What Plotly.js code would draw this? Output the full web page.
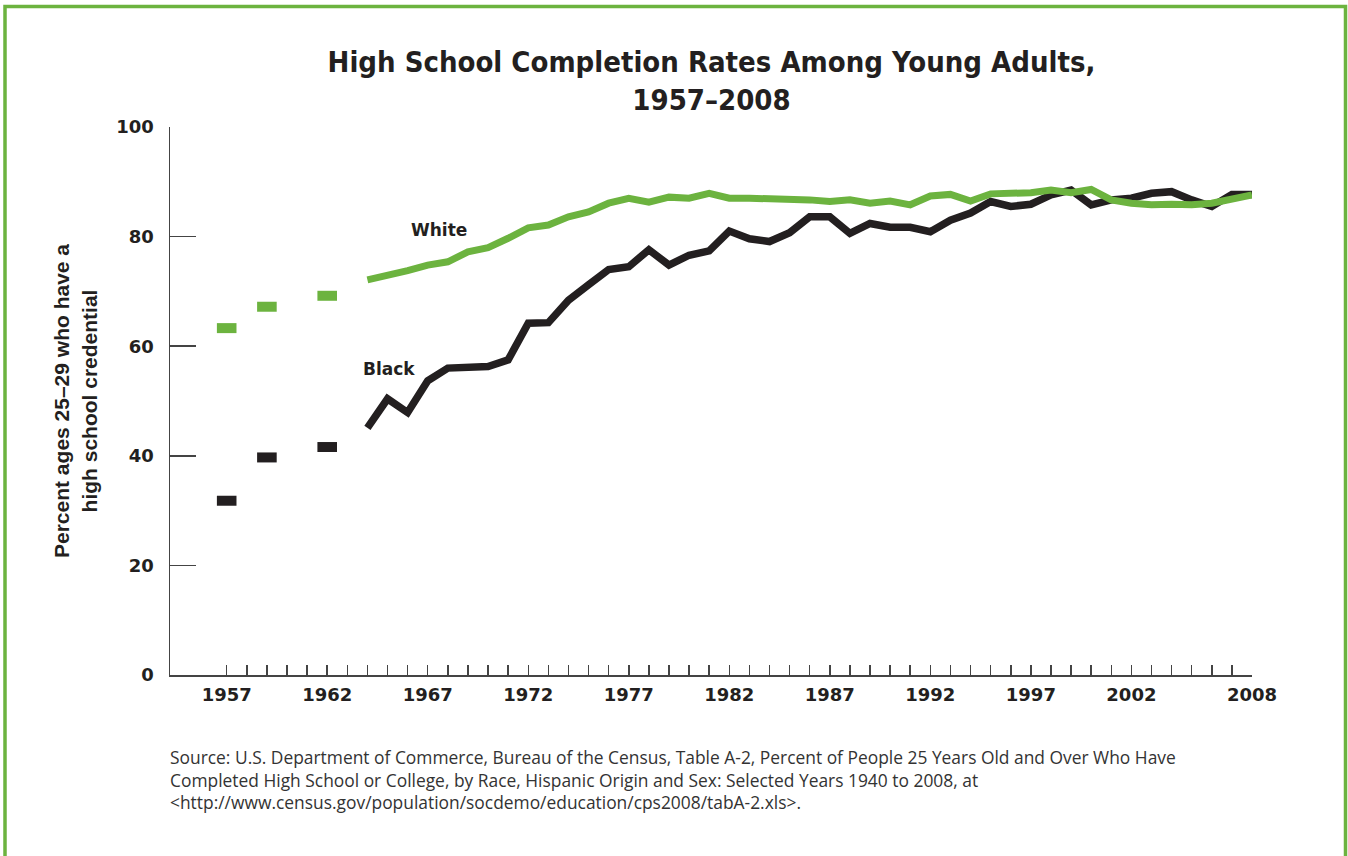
<!DOCTYPE html>
<html>
<head>
<meta charset="utf-8">
<script src="https://cdn.plot.ly/plotly-3.0.1.min.js"></script>
<style>
  html, body { margin: 0; padding: 0; background: #ffffff; }
  #chart { width: 1348px; height: 856px; }
</style>
</head>
<body>
<div id="chart"></div>
<script>
// ---- Data ----
const earlyYears = [1957, 1959, 1962];
const whiteEarly = [63.3, 67.2, 69.2];
const blackEarly = [31.8, 39.7, 41.6];

const lineYears = [1964, 1965, 1966, 1967, 1968, 1969, 1970, 1971, 1972, 1973,
  1974, 1975, 1976, 1977, 1978, 1979, 1980, 1981, 1982, 1983,
  1984, 1985, 1986, 1987, 1988, 1989, 1990, 1991, 1992, 1993,
  1994, 1995, 1996, 1997, 1998, 1999, 2000, 2001, 2002, 2003,
  2004, 2005, 2006, 2007, 2008];

const whiteLine = [72.1, 72.8, 73.8, 74.8, 75.4, 77.2, 78.0, 79.7, 81.6, 82.1,
  83.6, 84.5, 86.1, 87.0, 86.3, 87.2, 87.0, 87.9, 87.0, 87.0,
  87.0, 87.0, 86.7, 86.4, 86.7, 86.1, 86.5, 85.8, 87.4, 87.7,
  86.5, 87.8, 87.9, 88.0, 88.5, 88.0, 88.6, 86.7, 86.1, 85.8,
  85.9, 85.8, 86.1, 86.8, 87.6];

const blackLine = [45.1, 50.4, 47.9, 53.7, 56.0, 56.0, 56.3, 57.5, 64.2, 64.3,
  68.4, 71.2, 74.0, 74.5, 77.6, 74.8, 76.6, 77.4, 81.0, 79.6,
  79.1, 80.7, 83.6, 83.6, 80.6, 82.4, 81.7, 81.7, 80.9, 83.0,
  84.3, 86.4, 85.5, 85.9, 87.6, 88.5, 85.8, 86.7, 87.0, 87.9,
  88.2, 86.7, 85.5, 87.7, 87.7];

const tickYears = [];
for (let y = 1957; y <= 2008; y++) tickYears.push(y);
const labeledYears = [1957, 1962, 1967, 1972, 1977, 1982, 1987, 1992, 1997, 2002, 2008];
const tickText = tickYears.map(y => labeledYears.includes(y) ? String(y) : '');

const yTicks = [0, 20, 40, 60, 80, 100];

const titleText = 'High School Completion Rates Among Young Adults,<br>1957–2008';
const yTitleText = 'Percent ages 25–29 who have a<br>high school credential';
const sourceLines = [
  'Source: U.S. Department of Commerce, Bureau of the Census, Table A-2, Percent of People 25 Years Old and Over Who Have',
  'Completed High School or College, by Race, Hispanic Origin and Sex: Selected Years 1940 to 2008, at',
  '&lt;http://www.census.gov/population/socdemo/education/cps2008/tabA-2.xls&gt;.'
];

const GREEN = '#6cb33f';
const BLACK = '#231f20';

const traces = [
  {
    x: lineYears, y: blackLine, type: 'scatter', mode: 'lines',
    line: { color: BLACK, width: 7.5 }, cliponaxis: false, name: 'Black', hoverinfo: 'x+y'
  },
  {
    x: lineYears, y: whiteLine, type: 'scatter', mode: 'lines',
    line: { color: GREEN, width: 7 }, cliponaxis: false, name: 'White', hoverinfo: 'x+y'
  },
  {
    x: earlyYears, y: whiteEarly, type: 'scatter', mode: 'markers',
    marker: { symbol: 'line-ew', size: 14, line: { color: GREEN, width: 10 } },
    cliponaxis: false, name: 'White', hoverinfo: 'x+y'
  },
  {
    x: earlyYears, y: blackEarly, type: 'scatter', mode: 'markers',
    marker: { symbol: 'line-ew', size: 14, line: { color: BLACK, width: 10 } },
    cliponaxis: false, name: 'Black', hoverinfo: 'x+y'
  }
];

const layout = {
  width: 1348, height: 856,
  margin: { l: 170, r: 96, t: 127, b: 181, pad: 0 },
  paper_bgcolor: '#ffffff', plot_bgcolor: '#ffffff',
  showlegend: false,
  title: {
    text: titleText,
    font: { family: 'Liberation Sans Narrow, DejaVu Sans Condensed, sans-serif', size: 29, color: BLACK, weight: 'bold' },
    x: 711.5 / 1348, xref: 'container', xanchor: 'center',
    y: 1 - 72 / 856, yref: 'container', yanchor: 'top'
  },
  xaxis: {
    range: [1954.18, 2008.0],
    tickmode: 'array', tickvals: tickYears, ticktext: tickText,
    ticks: 'inside', ticklen: 10, tickwidth: 1.5, tickcolor: '#444',
    showline: true, linecolor: '#444', linewidth: 2,
    showgrid: false, zeroline: false,
    tickfont: { family: 'DejaVu Sans, sans-serif', size: 18, color: BLACK, weight: 'bold' },
    ticklabelstandoff: 2,
    fixedrange: true
  },
  yaxis: {
    range: [0, 100],
    tickmode: 'array', tickvals: yTicks,
    ticks: 'inside', ticklen: 26, tickwidth: 1.5, tickcolor: '#444',
    showline: true, linecolor: '#444', linewidth: 1.5,
    showgrid: false, zeroline: false,
    tickfont: { family: 'DejaVu Sans, sans-serif', size: 18, color: BLACK, weight: 'bold' },
    ticklabelstandoff: 11,
    title: {
      text: yTitleText,
      font: { family: 'Liberation Sans, Arial, sans-serif', size: 21, color: BLACK, weight: 'bold' },
      standoff: 13
    },
    fixedrange: true
  },
  annotations: [
    {
      text: 'White', x: 1967.55, y: 81.2, xref: 'x', yref: 'y', showarrow: false,
      font: { family: 'DejaVu Sans, sans-serif', size: 17, color: BLACK, weight: 'bold' }
    },
    {
      text: 'Black', x: 1965.05, y: 55.8, xref: 'x', yref: 'y', showarrow: false,
      font: { family: 'DejaVu Sans, sans-serif', size: 17, color: BLACK, weight: 'bold' }
    },
    {
      text: sourceLines.join('<br>'), xref: 'paper', yref: 'paper',
      x: (168 - 170) / 1082, y: (675 - 779) / 548,
      xanchor: 'left', yanchor: 'middle', align: 'left', showarrow: false,
      font: { family: 'Open Sans, Noto Sans, sans-serif', size: 17.4, color: '#333333' }
    }
  ],
  shapes: [
    {
      type: 'rect', xref: 'paper', yref: 'paper',
      x0: (5 - 170) / 1082, x1: (1345.5 - 170) / 1082,
      y0: (675 - 880) / 548, y1: (675 - 6.5) / 548,
      line: { color: GREEN, width: 3.5 }, fillcolor: 'rgba(0,0,0,0)', layer: 'above'
    }
  ]
};

Plotly.newPlot('chart', traces, layout, { displayModeBar: false, staticPlot: true });
</script>
</body>
</html>
